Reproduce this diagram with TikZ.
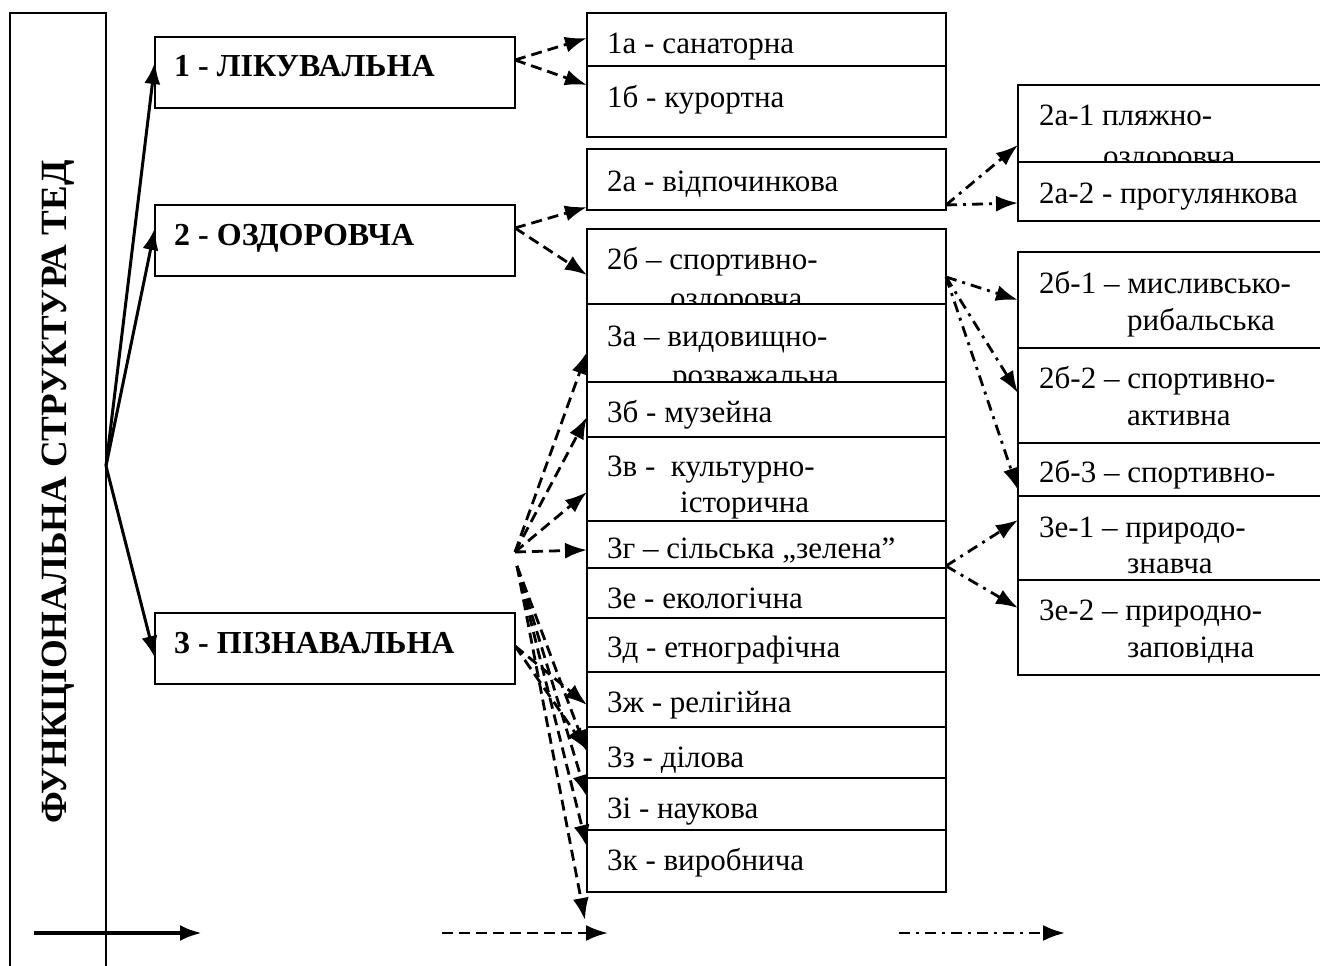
\documentclass[tikz,border=0pt]{standalone}
\usepackage{fontspec}
\setmainfont{Liberation Serif}
\usetikzlibrary{arrows.meta}

\tikzset{
  cell/.style={draw, fill=white, line width=2.4pt, anchor=north west, inner sep=0pt, outer sep=0pt},
  txt/.style={anchor=base west, inner sep=0pt, font=\fontsize{31}{37}\selectfont},
  head/.style={anchor=base west, inner sep=0pt, font=\fontsize{32}{38}\selectfont\bfseries},
  tip/.style={-{Latex[length=22pt,width=16pt]}},
  full/.style={tip, line width=3pt},
  dsh/.style={tip, line width=2.8pt, dash pattern=on 11pt off 6pt},
  dshdot/.style={tip, line width=2.8pt, dash pattern=on 11pt off 6pt on 3pt off 6pt}
}

\begin{document}
\begin{tikzpicture}[x=1pt, y=-1pt]
      \useasboundingbox (0,0) rectangle (1320,966);
      % left column
      \node[cell, line width=1.6pt, minimum width=96pt, minimum height=1000pt] (fs) at (10,13) {};
      \node[rotate=90, inner sep=0pt, font=\fontsize{37}{40}\selectfont\bfseries] (title) at (58,492) {ФУНКЦІОНАЛЬНА СТРУКТУРА ТЕД};
      \coordinate (o) at (106,466);
      \node[cell, minimum width=360pt, minimum height=71pt] (1) at (155,37) {};
      \node[head] (t1) at (174,77) {1 - ЛІКУВАЛЬНА};
      \node[cell, minimum width=360pt, minimum height=71pt] (2) at (155,205) {};
      \node[head] (t2) at (174,245) {2 - ОЗДОРОВЧА};
      \node[cell, minimum width=360pt, minimum height=71pt] (3) at (155,613) {};
      \node[head] (t3) at (174,653) {3 - ПІЗНАВАЛЬНА};
      % middle column
      \foreach \nm/\ya/\yb/\bs/\la/\ix/\lb/\bt in {
          1a/13/66/54/1а - санаторна/0/0/0,
          1b/66/137/107/1б - курортна/0/0/0,
          2a/149/210/191/2а - відпочинкова/0/0/0,
          2b/229/304/269/2б – спортивно-/670/оздоровча/308,
          3a/304/382/346/3а – видовищно-/672/розважальна/385,
          3b/382/437/422/3б - музейна/0/0/0,
          3v/437/521/476/3в - \ культурно-/680/історична/512,
          3g/521/568/558/3г – сільська „зелена”/0/0/0,
          3e/568/618/608/3е - екологічна/0/0/0,
          3d/618/672/657/3д - етнографічна/0/0/0,
          3zh/672/727/712/3ж - релігійна/0/0/0,
          3z/727/778/767/3з - ділова/0/0/0,
          3i/778/830/818/3і - наукова/0/0/0,
          3k/830/892/870/3к - виробнича/0/0/0}{
        \node[cell, minimum width=359pt, minimum height=\yb pt-\ya pt] (\nm) at (587,\ya) {};
        \node[txt] (t\nm) at (607,\bs) {\la};
        \ifnum\ix>0 \node[txt] (u\nm) at (\ix,\bt) {\lb}; \fi
      }
      % right column
      \foreach \nm/\ya/\yb/\bs/\la/\ix/\lb/\bt in {
          2a1/85/162/125/2а-1 пляжно-/1103/оздоровча/166,
          2a2/162/221/203/2а-2 - прогулянкова/0/0/0,
          2b1/252/348/293/2б-1 – мисливсько-/1127/рибальська/330,
          2b2/348/443/388/2б-2 – спортивно-/1127/активна/425,
          2b3/443/496/482/2б-3 – спортивно-/0/0/0,
          3e1/496/580/537/3е-1 – природо-/1127/знавча/573,
          3e2/580/675/620/3е-2 – природно-/1127/заповідна/657}{
        \node[cell, minimum width=330pt, minimum height=\yb pt-\ya pt] (\nm) at (1018,\ya) {};
        \node[txt] (t\nm) at (1039,\bs) {\la};
        \ifnum\ix>0 \node[txt] (u\nm) at (\ix,\bt) {\lb}; \fi
      }
      % connectors
      \draw[full] (o) -- (1.west |- 0,62);
      \draw[full] (o) -- (2.west |- 0,228);
      \draw[full] (o) -- (3.west |- 0,658);
      \draw[dsh] (1.east |- 0,60) -- (1a.west |- 0,38);
      \draw[dsh] (1.east |- 0,60) -- (1b.west |- 0,85);
      \draw[dsh] (2.east |- 0,228) -- (2a.west |- 0,207);
      \draw[dsh] (2.east |- 0,228) -- (2b.west |- 0,275);
      \coordinate (f3) at (515,552);
      \coordinate (g3) at (517,566);
      \coordinate (end) at (585,920);
      \draw[dsh] (f3) -- (3a.west |- 0,352);
      \draw[dsh] (f3) -- (3b.west |- 0,417);
      \draw[dsh] (f3) -- (3v.west |- 0,492);
      \draw[dsh] (f3) -- (3g.west |- 0,550);
      \draw[dsh] (3.east |- 0,646) -- (3zh.west |- 0,705);
      \draw[dsh] (3.east |- 0,646) -- (3z.west |- 0,750);
      \draw[dsh] (g3) -- (3z.west |- 0,752);
      \draw[dsh] (g3) -- (3i.west |- 0,797);
      \draw[dsh] (g3) -- (3k.west |- 0,847);
      \draw[dsh] (g3) -- (end);
      \draw[dshdot] (2a.east |- 0,205) -- (2a1.west |- 0,145);
      \draw[dshdot] (2a.east |- 0,205) -- (2a2.west |- 0,203);
      \draw[dshdot] (2b.east |- 0,277) -- (2b1.west |- 0,300);
      \draw[dshdot] (2b.east |- 0,277) -- (2b2.west |- 0,393);
      \draw[dshdot] (2b.east |- 0,277) -- (2b3.west |- 0,490);
      \draw[dshdot] (3g.east |- 0,566) -- (3e1.west |- 0,520);
      \draw[dshdot] (3g.east |- 0,566) -- (3e2.west |- 0,608);
      % legend
      \coordinate (ls0) at (34,933);   \coordinate (ls1) at (202,933);
      \coordinate (ld0) at (442,933);  \coordinate (ld1) at (608,933);
      \coordinate (lp0) at (899,933);  \coordinate (lp1) at (1065,933);
      \draw[full, line width=4pt] (ls0) -- (ls1);
      \draw[dsh] (ld0) -- (ld1);
      \draw[dshdot] (lp0) -- (lp1);
\end{tikzpicture}
\end{document}
